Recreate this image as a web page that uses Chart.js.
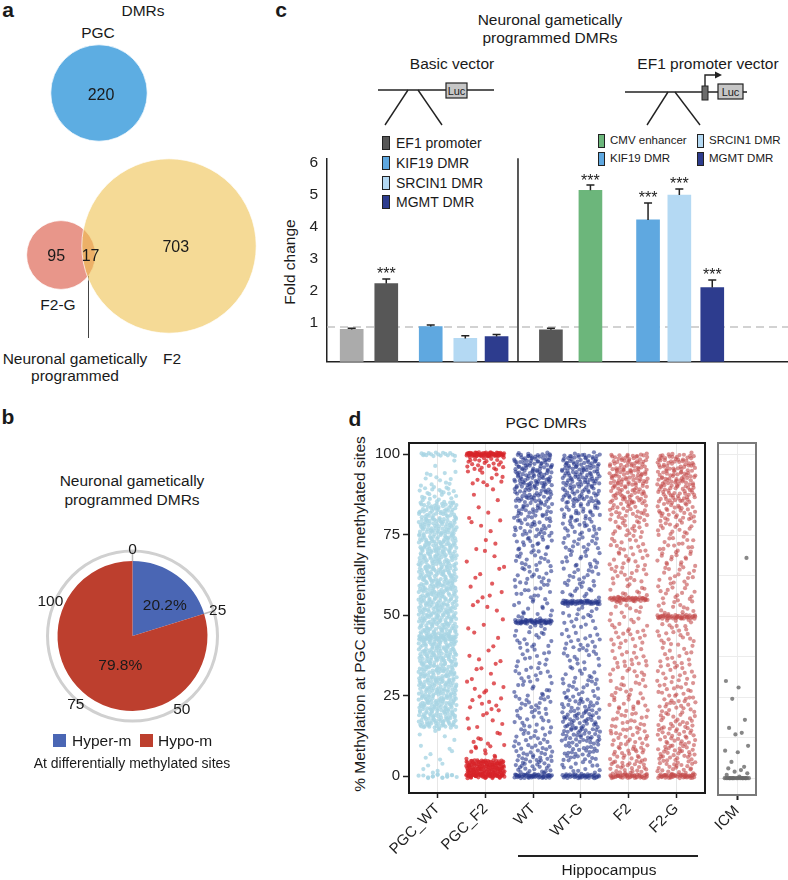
<!DOCTYPE html>
<html>
<head>
<meta charset="utf-8">
<script src="https://cdn.jsdelivr.net/npm/chart.js@4.4.1/dist/chart.umd.min.js"></script>
<style>
  html, body { margin: 0; padding: 0; background: #fff; }
  body { width: 788px; height: 880px; position: relative; overflow: hidden; font-family: 'Liberation Sans', Arial, sans-serif; color: #1a1a1a; }
  .t { position: absolute; transform: translate(-50%, -50%); white-space: nowrap; font-size: 15.5px; line-height: 1; }
  .l { position: absolute; transform: translateY(-50%); white-space: nowrap; line-height: 1; }
  .p { font-weight: bold; font-size: 21px; }
  .sw { position: absolute; box-sizing: border-box; border: 1px solid #222; }
  canvas, svg { position: absolute; }
</style>
</head>
<body>
<!-- panel a -->
<div class="t p" style="left:8px;top:9px">a</div>
<div class="t" style="left:143px;top:11px">DMRs</div>
<div class="t" style="left:98px;top:33px">PGC</div>
<div class="t" style="left:58px;top:305px">F2-G</div>
<div style="position:absolute;left:88px;top:272px;width:1px;height:66px;background:#444"></div>
<div class="t" style="left:75px;top:359px">Neuronal gametically</div>
<div class="t" style="left:75px;top:376px">programmed</div>
<div class="t" style="left:172px;top:359px">F2</div>
<canvas id="venn" width="270" height="310" style="left:0;top:40px"></canvas>

<!-- panel b -->
<div class="t p" style="left:8px;top:416px">b</div>
<div class="t" style="left:132px;top:481px">Neuronal gametically</div>
<div class="t" style="left:132px;top:500px">programmed DMRs</div>
<canvas id="pie" width="265" height="195" style="left:0;top:540px"></canvas>
<div class="sw" style="left:53px;top:734px;width:13px;height:13px;border:none;background:#4a66b4"></div>
<div class="l" style="left:72px;top:741px;font-size:15.5px">Hyper-m</div>
<div class="sw" style="left:140px;top:734px;width:13px;height:13px;border:none;background:#bd3f2e"></div>
<div class="l" style="left:158px;top:741px;font-size:15.5px">Hypo-m</div>
<div class="t" style="left:132px;top:763px;font-size:14px">At differentially methylated sites</div>

<!-- panel c -->
<div class="t p" style="left:281px;top:9px">c</div>
<div class="t" style="left:550px;top:20px">Neuronal gametically</div>
<div class="t" style="left:550px;top:38px">programmed DMRs</div>
<div class="t" style="left:452px;top:64px">Basic vector</div>
<div class="t" style="left:708px;top:64px">EF1 promoter vector</div>
<svg width="518" height="80" style="left:270px;top:60px">
  <g stroke="#222" stroke-width="1.4" fill="none">
    <line x1="108" y1="30" x2="224" y2="30"/>
    <line x1="138" y1="30" x2="115" y2="65"/>
    <line x1="148" y1="30" x2="172" y2="65"/>
    <line x1="355" y1="32" x2="477" y2="32"/>
    <line x1="398" y1="32" x2="377" y2="65"/>
    <line x1="405" y1="32" x2="430" y2="65"/>
    <path d="M435 26 V15 H446"/>
  </g>
  <polygon points="445,11.5 452,15 445,18.5" fill="#222"/>
  <rect x="176" y="23" width="21" height="15" fill="#c6c6c6" stroke="#222" stroke-width="1.2"/>
  <text x="186.5" y="34.5" font-size="11" text-anchor="middle" fill="#222">Luc</text>
  <rect x="432" y="26" width="6" height="14" fill="#6b6b6b" stroke="#222" stroke-width="1"/>
  <rect x="448" y="24" width="25" height="15" fill="#c6c6c6" stroke="#222" stroke-width="1.2"/>
  <text x="460.5" y="35.5" font-size="11" text-anchor="middle" fill="#222">Luc</text>
</svg>
<div class="sw" style="left:382px;top:136px;width:8px;height:14px;background:#575757"></div>
<div class="l" style="left:396px;top:143px;font-size:14px">EF1 promoter</div>
<div class="sw" style="left:382px;top:156px;width:8px;height:14px;background:#5fa8e0"></div>
<div class="l" style="left:396px;top:163px;font-size:14px">KIF19 DMR</div>
<div class="sw" style="left:382px;top:176px;width:8px;height:14px;background:#b4d9f3"></div>
<div class="l" style="left:396px;top:183px;font-size:14px">SRCIN1 DMR</div>
<div class="sw" style="left:382px;top:195px;width:8px;height:14px;background:#2d3c8e"></div>
<div class="l" style="left:396px;top:202px;font-size:14px">MGMT DMR</div>
<div class="sw" style="left:598px;top:134px;width:7px;height:14px;background:#6cb67b"></div>
<div class="l" style="left:610px;top:141px;font-size:11.5px">CMV enhancer</div>
<div class="sw" style="left:598px;top:152px;width:7px;height:14px;background:#5fa8e0"></div>
<div class="l" style="left:610px;top:159px;font-size:11.5px">KIF19 DMR</div>
<div class="sw" style="left:697px;top:134px;width:7px;height:14px;background:#b4d9f3"></div>
<div class="l" style="left:709px;top:141px;font-size:11.5px">SRCIN1 DMR</div>
<div class="sw" style="left:697px;top:152px;width:7px;height:14px;background:#2d3c8e"></div>
<div class="l" style="left:709px;top:159px;font-size:11.5px">MGMT DMR</div>
<div class="t" style="left:290px;top:262px;transform:translate(-50%,-50%) rotate(-90deg)">Fold change</div>
<canvas id="bars" width="518" height="240" style="left:270px;top:140px"></canvas>

<!-- panel d -->
<div class="t p" style="left:355px;top:418px">d</div>
<div class="t" style="left:546px;top:423px">PGC DMRs</div>
<div class="t" style="left:360px;top:614px;transform:translate(-50%,-50%) rotate(-90deg)">% Methylation at PGC differentially methylated sites</div>
<canvas id="strip" width="455" height="450" style="left:260px;top:430px"></canvas>
<canvas id="icm" width="88" height="450" style="left:700px;top:430px"></canvas>
<div style="position:absolute;left:518px;top:855px;width:180px;height:2px;background:#222"></div>
<div class="t" style="left:609px;top:870px">Hippocampus</div>

<script>
const FONT = "'Liberation Sans', Arial, sans-serif";
Chart.defaults.font.family = FONT;

// ---- a: Venn of DMR sets
const vennSets = ['PGC', 'F2-G', 'F2'];
const vennOnly = [220, 95, 703];
const vennShared = 17; // F2-G and F2

// ---- b: direction of change
const methLabels = ['Hyper-m', 'Hypo-m'];
const methPct = [20.2, 79.8];
const ringTicks = [0, 25, 50, 75, 100];

// ---- c: luciferase assay
const cBars = ['Control', 'EF1 promoter', 'KIF19 DMR', 'SRCIN1 DMR', 'MGMT DMR',
               'EF1 promoter', 'CMV enhancer', 'KIF19 DMR', 'SRCIN1 DMR', 'MGMT DMR'];
const cFold = [0.79, 2.23, 0.88, 0.51, 0.57, 0.78, 5.15, 4.22, 5.00, 2.10];
const cSem = [0.04, 0.14, 0.05, 0.08, 0.06, 0.05, 0.16, 0.53, 0.19, 0.24];
const cStars = ['', '***', '', '', '', '', '***', '***', '***', '***'];
const cTicks = [1, 2, 3, 4, 5, 6];
const cRef = 0.87;

// ---- d: methylation at PGC DMRs, counts per 5% bin plus tight clusters [value, count]
const dCats = ['PGC_WT', 'PGC_F2', 'WT', 'WT-G', 'F2', 'F2-G'];
const dTicks = [0, 25, 50, 75, 100];
const pgcWtBins = [6, 6, 5, 70, 70, 70, 70, 70, 72, 70, 70, 70, 68, 68, 68, 68, 55, 25, 12, 3];
const pgcWtPeaks = [[0, 15], [43, 25], [100, 15]];
const pgcF2Bins = [150, 10, 7, 6, 9, 6, 5, 4, 3, 3, 4, 5, 3, 4, 3, 4, 3, 3, 10, 28];
const pgcF2Peaks = [[0, 30], [100, 60]];
const wtBins = [30, 25, 18, 16, 18, 14, 13, 12, 14, 14, 12, 15, 16, 18, 20, 28, 32, 45, 55, 55];
const wtPeaks = [[0, 40], [48, 45], [100, 6]];
const wtgBins = [18, 28, 38, 38, 28, 16, 14, 14, 15, 12, 12, 14, 16, 16, 18, 22, 28, 40, 50, 52];
const wtgPeaks = [[0, 35], [54, 45], [100, 4]];
const f2Bins = [32, 25, 22, 18, 16, 15, 13, 14, 14, 12, 12, 14, 15, 16, 16, 20, 28, 40, 50, 48];
const f2Peaks = [[0, 40], [55, 40], [100, 3]];
const f2gBins = [30, 32, 28, 22, 22, 18, 16, 13, 14, 15, 14, 15, 15, 16, 16, 20, 30, 42, 50, 48];
const f2gPeaks = [[0, 40], [49.5, 40], [100, 3]];
const icmValues = [68, 30, 28, 24.5, 18, 15.5, 14, 13.5, 10, 8.5, 8, 5, 3.5, 3, 2.5, 2, 1.5, 1, 0.5,
                   0, 0, 0, 0, 0, 0, 0, 0, 0, 0, 0, 0, 0, 0, 0, 0, 0, 0, 0, 0];

// layout (not data)
const vennPos = [[99, 93], [61, 255], [169, 246]];
const vennScale = 3.25;
const ringSpan = 123;
const cSlot = [0.75, 1.8, 3.15, 4.2, 5.15, 6.8, 8.0, 9.75, 10.7, 11.7];
const cDivider = 5.8;
const cMin = -0.22;
const dBinWidth = 5;

const vennTotals = [vennOnly[0], vennOnly[1] + vennShared, vennOnly[2] + vennShared];
const vennText = {
  id: 'vennText',
  afterDatasetsDraw(chart) {
    const c = i => { const el = chart.getDatasetMeta(i).data[0]; return { x: el.x, y: el.y, r: el.options.radius }; };
    const pgc = c(0), f2g = c(1), f2 = c(2);
    const ctx = chart.ctx;
    ctx.save();
    ctx.font = '16px ' + FONT;
    ctx.fillStyle = '#1a1a1a';
    ctx.textAlign = 'center';
    ctx.textBaseline = 'middle';
    ctx.fillText(vennOnly[0], pgc.x + 2, pgc.y + 3);
    ctx.fillText(vennOnly[1], (f2g.x - f2g.r + f2.x - f2.r) / 2 + 2, f2g.y + 2);
    ctx.fillText(vennShared, (f2g.x + f2g.r + f2.x - f2.r) / 2 + 2, f2g.y + 2);
    ctx.fillText(vennOnly[2], (f2g.x + f2g.r + f2.x + f2.r) / 2, f2.y + 2);
    ctx.restore();
  }
};
const vennColors = ['#5dade2', '#e8968a', 'rgba(238,193,80,0.6)'];
new Chart(document.getElementById('venn'), {
  type: 'bubble',
  data: {
    datasets: vennSets.map((s, i) => ({
      label: s,
      data: [{ x: vennPos[i][0], y: vennPos[i][1], r: vennScale * Math.sqrt(vennTotals[i]) }],
      backgroundColor: vennColors[i],
      borderColor: 'rgba(255,255,255,0.7)',
      borderWidth: 1,
      order: i === 2 ? 0 : 1,
      clip: false
    }))
  },
  options: {
    responsive: false, animation: false, events: [],
    layout: { padding: 0, autoPadding: false },
    plugins: { legend: { display: false }, tooltip: { enabled: false } },
    scales: {
      x: { type: 'linear', display: false, min: 0, max: 270 },
      y: { type: 'linear', display: false, min: 40, max: 350, reverse: true }
    }
  },
  plugins: [vennText]
});

const ringPlugin = {
  id: 'ring',
  afterDatasetsDraw(chart) {
    const arcs = chart.getDatasetMeta(0).data;
    const cx = arcs[0].x, cy = arcs[0].y, R = arcs[0].outerRadius;
    const ctx = chart.ctx;
    ctx.save();
    ctx.strokeStyle = '#d0d0d0';
    ctx.lineWidth = 3;
    ctx.beginPath();
    ctx.arc(cx, cy, R + 10, 0, Math.PI * 2);
    ctx.stroke();
    ctx.strokeStyle = '#bbbbbb';
    ctx.lineWidth = 1.5;
    arcs.forEach(a => {
      ctx.beginPath();
      ctx.moveTo(cx + Math.cos(a.startAngle) * R, cy + Math.sin(a.startAngle) * R);
      ctx.lineTo(cx + Math.cos(a.startAngle) * (R + 10), cy + Math.sin(a.startAngle) * (R + 10));
      ctx.stroke();
    });
    ctx.fillStyle = '#1a1a1a';
    ctx.textAlign = 'center';
    ctx.textBaseline = 'middle';
    ctx.font = '15.5px ' + FONT;
    ringTicks.forEach(v => {
      const ang = -Math.PI / 2 + v / ringSpan * Math.PI * 2;
      const rr = v === 0 ? R + 11 : R + 14;
      ctx.fillText(v, cx + Math.cos(ang) * rr, cy + Math.sin(ang) * rr);
    });
    arcs.forEach((a, i) => {
      const p = a.tooltipPosition();
      ctx.fillText(methPct[i].toFixed(1) + '%', p.x + 10, p.y);
    });
    ctx.restore();
  }
};
new Chart(document.getElementById('pie'), {
  type: 'pie',
  data: { labels: methLabels, datasets: [{ data: methPct, backgroundColor: ['#4a66b4', '#bd3f2e'], borderWidth: 0 }] },
  options: {
    responsive: false, animation: false, events: [],
    layout: { padding: { top: 21, bottom: 24, left: 0, right: 0 } },
    plugins: { legend: { display: false }, tooltip: { enabled: false } }
  },
  plugins: [ringPlugin]
});

const cColor = {
  'Control': '#ababab', 'EF1 promoter': '#575757', 'KIF19 DMR': '#5fa8e0',
  'SRCIN1 DMR': '#b4d9f3', 'MGMT DMR': '#2d3c8e', 'CMV enhancer': '#6cb67b'
};
const cExtras = {
  id: 'cExtras',
  beforeDatasetsDraw(chart) {
    const { ctx, chartArea: a, scales: { y } } = chart;
    const yy = y.getPixelForValue(cRef);
    ctx.save();
    ctx.strokeStyle = '#c4c4c4';
    ctx.lineWidth = 1.5;
    ctx.setLineDash([8, 5]);
    ctx.beginPath();
    ctx.moveTo(a.left, yy);
    ctx.lineTo(a.right, yy);
    ctx.stroke();
    ctx.restore();
  },
  afterDatasetsDraw(chart) {
    const { ctx, chartArea: a, scales: { x, y } } = chart;
    ctx.save();
    ctx.strokeStyle = '#222';
    ctx.lineWidth = 1.5;
    const xd = x.getPixelForValue(cDivider);
    ctx.beginPath();
    ctx.moveTo(xd, a.top);
    ctx.lineTo(xd, a.bottom);
    ctx.stroke();
    ctx.font = '16px ' + FONT;
    ctx.fillStyle = '#222';
    ctx.textAlign = 'center';
    ctx.textBaseline = 'middle';
    chart.getDatasetMeta(0).data.forEach((el, i) => {
      const top = y.getPixelForValue(cFold[i] + cSem[i]);
      ctx.beginPath();
      ctx.moveTo(el.x, el.y);
      ctx.lineTo(el.x, top);
      ctx.moveTo(el.x - 4, top);
      ctx.lineTo(el.x + 4, top);
      ctx.stroke();
      if (cStars[i]) ctx.fillText(cStars[i], el.x, top - 4);
    });
    ctx.restore();
  }
};
new Chart(document.getElementById('bars'), {
  type: 'bar',
  data: {
    datasets: [{
      data: cBars.map((b, i) => ({ x: cSlot[i], y: cFold[i] })),
      backgroundColor: cBars.map(b => cColor[b]),
      barThickness: 23,
      base: cMin
    }]
  },
  options: {
    responsive: false, animation: false, events: [],
    layout: { padding: { top: 13, bottom: 8, left: 0, right: 0 } },
    plugins: { legend: { display: false }, tooltip: { enabled: false } },
    scales: {
      x: {
        type: 'linear', min: 0, max: 14, offset: false,
        ticks: { display: false },
        grid: { display: false, drawTicks: false },
        border: { display: true, color: '#222', width: 1.5 },
        afterFit: s => { s.height = 0; }
      },
      y: {
        min: cMin, max: 6.15,
        afterBuildTicks: s => { s.ticks = cTicks.map(v => ({ value: v })); },
        ticks: { font: { size: 15.5 }, color: '#222', padding: 9 },
        grid: { display: false, drawTicks: false },
        border: { display: true, color: '#222', width: 1.5 },
        afterFit: s => { s.width = 57; }
      }
    }
  },
  plugins: [cExtras]
});

// quasi-random spreading of the binned counts inside each column (Halton, no RNG)
function halton(i, b) {
  let f = 1, r = 0;
  while (i > 0) { f /= b; r += f * (i % b); i = Math.floor(i / b); }
  return r;
}
const jit = k => (halton(k, 2) - 0.5) * 0.8;
function stripPoints(bins, peaks, col) {
  const pts = [];
  let k = 1 + col * 997;
  bins.forEach((n, b) => {
    for (let i = 0; i < n; i++, k++) pts.push({ x: col + jit(k), y: (b + halton(k, 3)) * dBinWidth });
  });
  peaks.forEach(([v, n]) => {
    for (let i = 0; i < n; i++, k++) pts.push({ x: col + jit(k), y: v + (halton(k, 3) - 0.5) * 1.2 });
  });
  return pts;
}
const panelBox = color => ({
  id: 'box',
  afterDraw(chart) {
    const { ctx, chartArea: a } = chart;
    ctx.save();
    ctx.strokeStyle = color;
    ctx.lineWidth = 2;
    ctx.strokeRect(a.left, a.top, a.right - a.left, a.bottom - a.top);
    ctx.restore();
  }
});
const dBins = [pgcWtBins, pgcF2Bins, wtBins, wtgBins, f2Bins, f2gBins];
const dPeaks = [pgcWtPeaks, pgcF2Peaks, wtPeaks, wtgPeaks, f2Peaks, f2gPeaks];
const dColors = ['rgba(168,212,228,0.8)', 'rgba(215,35,40,0.75)', 'rgba(38,55,140,0.6)',
                 'rgba(38,55,140,0.6)', 'rgba(195,75,75,0.6)', 'rgba(195,75,75,0.6)'];
const tickFont = { size: 15 };
new Chart(document.getElementById('strip'), {
  type: 'scatter',
  data: {
    datasets: dCats.map((c, i) => ({
      label: c, data: stripPoints(dBins[i], dPeaks[i], i),
      backgroundColor: dColors[i], pointRadius: 2.1, borderWidth: 0
    }))
  },
  options: {
    responsive: false, animation: false, events: [],
    layout: { padding: { top: 13, right: 10, left: 0, bottom: 0 } },
    plugins: { legend: { display: false }, tooltip: { enabled: false } },
    scales: {
      x: {
        type: 'linear', min: -0.6, max: 5.6,
        afterBuildTicks: s => { s.ticks = dCats.map((c, i) => ({ value: i })); },
        ticks: { callback: v => dCats[v], minRotation: 45, maxRotation: 45, autoSkip: false, font: tickFont, color: '#222', padding: 2 },
        grid: { color: '#e6e6e6', lineWidth: 1, tickColor: '#222', tickLength: 5, tickWidth: 1.5 },
        border: { display: false },
        afterFit: s => { s.height = 87; s.paddingLeft = 0; s.paddingRight = 0; }
      },
      y: {
        min: -5.2, max: 103.5,
        afterBuildTicks: s => { s.ticks = dTicks.map(v => ({ value: v })); },
        ticks: { font: tickFont, color: '#222', padding: 3 },
        grid: { drawOnChartArea: false, tickColor: '#222', tickLength: 6, tickWidth: 1.5 },
        border: { display: false },
        afterFit: s => { s.width = 149; }
      }
    }
  },
  plugins: [panelBox('#1a1a1a')]
});

const icmGrid = [0, 12.5, 25, 37.5, 50, 62.5, 75, 87.5, 100];
new Chart(document.getElementById('icm'), {
  type: 'scatter',
  data: {
    datasets: [{
      label: 'ICM', data: icmValues.map((v, k) => ({ x: jit(k + 7), y: v })),
      backgroundColor: 'rgba(105,105,105,0.8)', pointRadius: 2.1, borderWidth: 0
    }]
  },
  options: {
    responsive: false, animation: false, events: [],
    layout: { padding: { top: 13, right: 32, left: 18, bottom: 0 } },
    plugins: { legend: { display: false }, tooltip: { enabled: false } },
    scales: {
      x: {
        type: 'linear', min: -0.6, max: 0.6,
        afterBuildTicks: s => { s.ticks = [{ value: 0 }]; },
        ticks: { callback: () => 'ICM', minRotation: 45, maxRotation: 45, font: tickFont, color: '#222', padding: 2 },
        grid: { color: '#ececec', tickColor: '#222', tickLength: 5, tickWidth: 2 },
        border: { display: false },
        afterFit: s => { s.height = 85; s.paddingLeft = 0; s.paddingRight = 0; }
      },
      y: {
        min: -5.2, max: 103.5,
        afterBuildTicks: s => { s.ticks = icmGrid.map(v => ({ value: v })); },
        ticks: { display: false },
        grid: { color: '#ececec', drawTicks: false },
        border: { display: false },
        afterFit: s => { s.width = 0; }
      }
    }
  },
  plugins: [panelBox('#7a7a7a')]
});
</script>
</body>
</html>
